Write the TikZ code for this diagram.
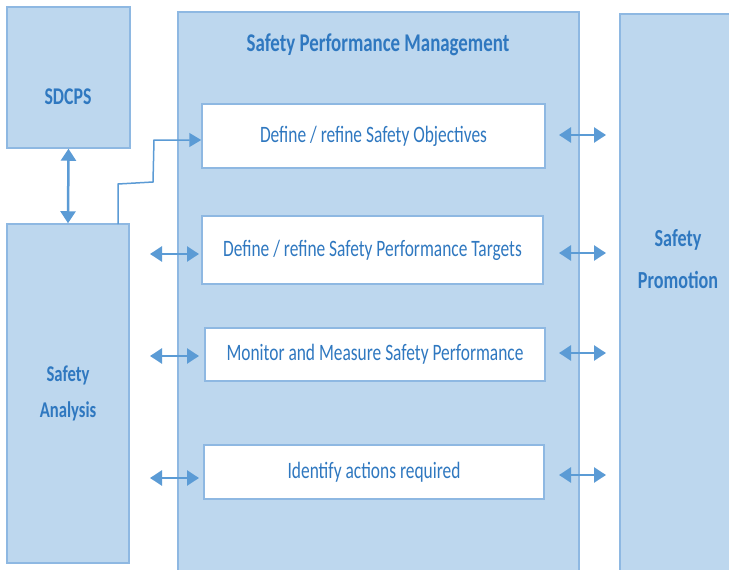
\documentclass[tikz,border=0pt]{standalone}
\usepackage{fontspec}
\setmainfont{Carlito}[FakeStretch=0.74]
\usetikzlibrary{arrows.meta}
\definecolor{boxfill}{HTML}{BDD7EE}
\definecolor{boxline}{HTML}{8EB8E2}
\definecolor{txtblue}{HTML}{2F78C0}
\definecolor{arrblue}{HTML}{5B9BD5}
\tikzset{
  bluebox/.style={draw=boxline, fill=boxfill, line width=1.5pt, inner sep=0pt},
  whitebox/.style={draw=boxline, fill=white, line width=1.5pt, inner sep=0pt, text=txtblue, font=\fontsize{23.5}{28}\selectfont},
  bigtxt/.style={text=txtblue, font=\fontsize{24}{36}\selectfont\bfseries, align=center},
  dbl/.style={draw=arrblue, line width=2.5pt, {Triangle[length=12pt,width=15pt]}-{Triangle[length=12pt,width=15pt]}},
  one/.style={draw=arrblue, line width=1.5pt, -{Triangle[length=12pt,width=14pt]}}
}
\begin{document}
\begin{tikzpicture}[x=1pt,y=-1pt]
\useasboundingbox (0,0) rectangle (729,570);
\clip (0,0) rectangle (729,570);
\fill[white] (0,0) rectangle (729,570);
% outer boxes
\node[bluebox, minimum width=123pt, minimum height=141pt] (sdcps) at (68.5,77.5) {};
\node[bluebox, minimum width=122pt, minimum height=339pt] (analysis) at (68,393.5) {};
\node[bluebox, minimum width=401pt, minimum height=570pt] (spm) at (378.5,297) {};
\node[bluebox, minimum width=120pt, minimum height=570pt] (promo) at (680,299) {};
% texts of outer boxes
\node[bigtxt] (sdcpsT) at (68,97) {SDCPS};
\node[bigtxt, font=\fontsize{22.5}{36}\selectfont\bfseries] (analysisT) at (68,393) {Safety\\Analysis};
\node[bigtxt, font=\fontsize{24.5}{42}\selectfont\bfseries] (promoT) at (678,259) {Safety\\Promotion};
\node[bigtxt, font=\fontsize{25.5}{30}\selectfont\bfseries] (spmT) at (378,45) {Safety Performance Management};
% inner boxes
\node[whitebox, minimum width=343pt, minimum height=64pt] (b1) at (373.5,136) {Define / refine Safety Objectives};
\node[whitebox, minimum width=341pt, minimum height=68pt] (b2) at (372.5,250) {Define / refine Safety Performance Targets};
\node[whitebox, minimum width=340pt, minimum height=53pt] (b3) at (375,354.5) {Monitor and Measure Safety Performance};
\node[whitebox, minimum width=340pt, minimum height=54pt] (b4) at (374,472) {Identify actions required};
% connectors
\draw[dbl] (sdcps.south) -- (analysis.north);
\coordinate (e0) at (118,224);
\coordinate (e1) at (118,184);
\coordinate (e2) at (153,182);
\coordinate (e3) at (154,140);
\draw[one] (e0) -- (e1) -- (e2) -- (e3) -- (e3 -| b1.west);
\foreach \y/\b in {254/b2, 356/b3, 478/b4}{
  \coordinate (L\b) at (150,\y);
  \coordinate (M\b) at (199,\y);
  \draw[dbl] (L\b) -- (M\b);
}
\foreach \y/\b in {135/b1, 253/b2, 353/b3, 475/b4}{
  \coordinate (R\b) at (559,\y);
  \coordinate (P\b) at (606,\y);
  \draw[dbl] (R\b) -- (P\b);
}
\end{tikzpicture}
\end{document}
